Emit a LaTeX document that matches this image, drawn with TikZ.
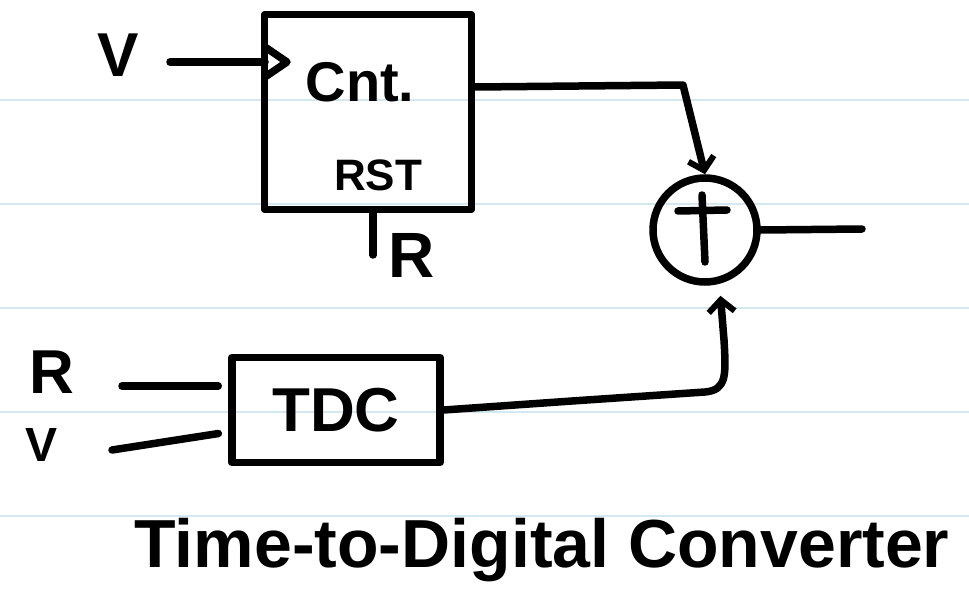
\documentclass[tikz,border=0pt]{standalone}
\usepackage{fontspec}
\setmainfont{Liberation Sans}
\usetikzlibrary{arrows.meta}
\usetikzlibrary{calc}
\usetikzlibrary{positioning}

\definecolor{rulecol}{HTML}{D5E8F0}
\tikzset{
  wire/.style={line width=7.5pt, line cap=round, line join=round},
  blk/.style={draw, line width=7.5pt, line join=round, inner sep=0pt},
  lbl/.style={inner sep=0pt},
  ruled/.style={draw=rulecol, line width=1.2pt},
  tip/.style={-{Straight Barb[length=12pt,width=26pt,line width=6pt]}}
}

\begin{document}
\begin{tikzpicture}[x=1pt,y=-1pt]
\useasboundingbox (0,0) rectangle (969,596);
\foreach \y in {100,204,308,412,516}{
\draw[ruled] (0,\y) -- (969,\y);}
% counter block
\node[blk, minimum width=207pt, minimum height=195pt] (cnt) at (368,112) {};
\node[lbl, font=\bfseries\fontsize{56}{60}\selectfont] (cntname) at (360,82) {Cnt.};
\node[lbl, font=\bfseries\fontsize{44}{48}\selectfont] (rst) at (378,175) {RST};
\node[lbl, font=\bfseries\fontsize{62}{66}\selectfont] (vclk) at (118,55) {V};
\node[lbl, font=\bfseries\fontsize{64}{68}\selectfont] (rcnt) at (412,255) {R};
\coordinate (clk) at (265,62);
\coordinate (vstart) at (170,62);
\draw[wire] ($(clk)+(0,-15)$) -- ($(clk)+(22,0)$) -- ($(clk)+(0,15)$);
\draw[wire] (vstart) -- (clk);
\coordinate (rpin) at (373,255);
\draw[wire] (rpin |- cnt.south) -- (rpin);
% tdc block
\node[blk, minimum width=208pt, minimum height=105pt, font=\bfseries\fontsize{62}{66}\selectfont] (tdc) at (336,410) {TDC};
\node[lbl, font=\bfseries\fontsize{62}{66}\selectfont] (rtdc) at (52,372) {R};
\node[lbl, font=\bfseries\fontsize{48}{52}\selectfont] (vtdc) at (42,445) {V};
\coordinate (rin) at (122,386);
\coordinate (vin) at (112,450);
\draw[wire, shorten >=10pt] (rin) -- (rin -| tdc.west);
\draw[wire, shorten >=10pt] (vin) -- ([yshift=-22pt]tdc.west);
% adder
\node[draw, circle, line width=7.5pt, minimum size=104pt, inner sep=0pt] (add) at (705,230) {};
\draw[wire] ($(add.center)+(-27,-19)$) -- ($(add.center)+(22,-20)$);
\draw[wire] ($(add.center)+(-3,-35)$) -- ($(add.center)+(0,32)$);
\coordinate (cntout) at ([yshift=25pt]cnt.east);
\coordinate (sum) at (862,229);
\draw[wire, tip] (cntout) -- (683,85) -- (add.north);
\draw[wire, tip, shorten >=12pt] (tdc.east) -- (572,401) -- (705,392)
  .. controls (727,390) and (726,375) .. (724,340) -- (add.-75);
\draw[wire] (add.east) -- (sum);
\node[lbl, font=\bfseries\fontsize{68}{72}\selectfont] (title) at (542,550) {Time-to-Digital Converter};
\end{tikzpicture}
\end{document}
